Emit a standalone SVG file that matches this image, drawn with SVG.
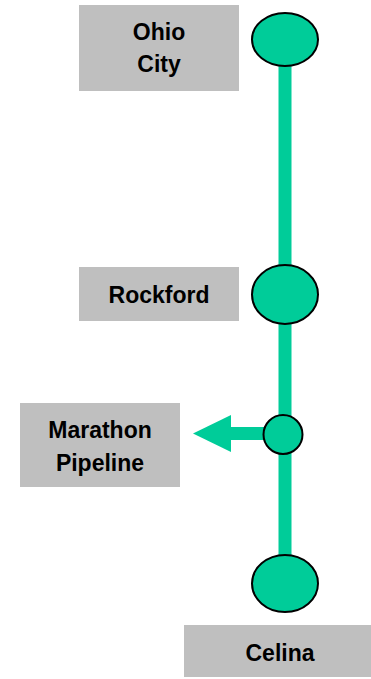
<svg xmlns="http://www.w3.org/2000/svg" width="371" height="679" viewBox="0 0 371 679">
<style>
.box{fill:#BFBFBF}
.lbl{font-family:"Liberation Sans",Arial,sans-serif;font-weight:bold;font-size:23px;fill:#000;text-anchor:middle}
.stn{fill:#00CC99;stroke:#000;stroke-width:2}
.pipe{stroke:#00CC99;stroke-width:13;fill:none}
</style>
<rect width="371" height="679" fill="#fff"/>
<g id="connectors">
<line class="pipe" x1="285" y1="40" x2="285" y2="583"/>
<line class="pipe" x1="264" y1="433.5" x2="228" y2="433.5"/>
<polygon points="193,433.5 231,415 231,452" fill="#00CC99"/>
</g>
<g id="ohio-city">
<rect class="box" x="79" y="5" width="160" height="86"/>
<text class="lbl" x="159" y="40">Ohio</text>
<text class="lbl" x="159" y="72">City</text>
<ellipse class="stn" cx="285" cy="39.5" rx="33" ry="26.5"/>
</g>
<g id="rockford">
<rect class="box" x="79" y="267" width="160" height="54"/>
<text class="lbl" x="159" y="303">Rockford</text>
<ellipse class="stn" cx="285" cy="294.5" rx="33" ry="29.5"/>
</g>
<g id="marathon-pipeline">
<rect class="box" x="20" y="403" width="160" height="84"/>
<text class="lbl" x="100" y="438">Marathon</text>
<text class="lbl" x="100" y="471">Pipeline</text>
<circle class="stn" cx="283" cy="434.5" r="19.5"/>
</g>
<g id="celina">
<ellipse class="stn" cx="285" cy="583.5" rx="33" ry="28.5"/>
<rect class="box" x="184" y="625" width="187" height="52"/>
<text class="lbl" x="280" y="661">Celina</text>
</g>
</svg>
